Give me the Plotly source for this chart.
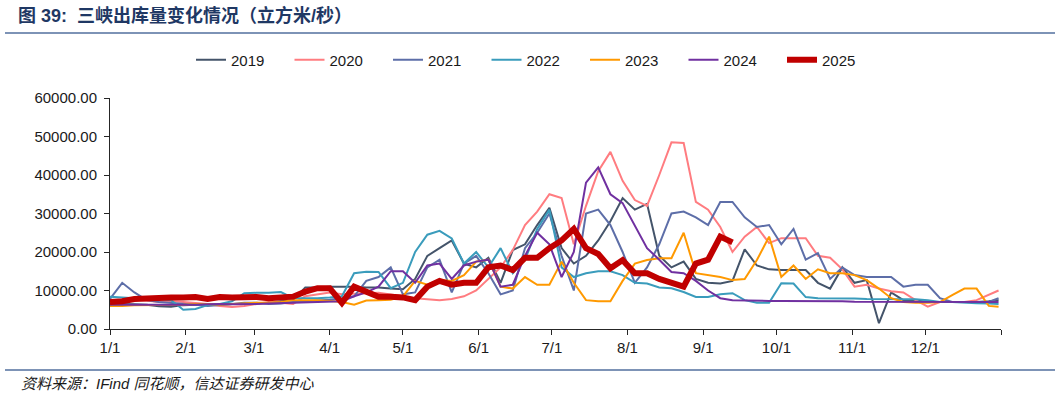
import plotly.graph_objects as go

# ---------------- data (day-of-year grid, every 5 days + Dec 30) ----------------
DAYS = list(range(0, 361, 5)) + [364]

Y2019 = [6500, 6500, 6400, 6300, 5900, 5800, 6200, 6300, 6300, 6400, 6500, 6500, 6700, 6800, 7200, 7500,
         10800, 10800, 11000, 11000, 11000, 10800, 10800, 10500, 10300, 13000, 19000, 21000, 23000, 17000, 16000, 18500,
         12000, 20500, 22000, 27000, 31500, 21000, 17000, 19000, 23000, 28000, 34000, 31000, 32500, 19000, 16000, 17500,
         13000, 12000, 11800, 12500, 20700, 16500, 15500, 15300, 15300, 15300, 12000, 10500, 16000, 12000, 12700, 1500,
         9500, 7500, 7500, 7000, 7000, 7000, 7000, 7000, 7200, 7500]

Y2020 = [7200, 7500, 7600, 7400, 7000, 7300, 7000, 6800, 6500, 6000, 5700, 6000, 6500, 7000, 6800, 6500,
         8500, 9000, 9500, 9000, 9200, 9300, 9400, 9000, 8500, 8000, 7800, 7500, 7800, 8500, 10000, 13000,
         16000, 20500, 27000, 30500, 35000, 34000, 22000, 32000, 41000, 46000, 38500, 33500, 32000, 40000, 48500, 48300,
         33000, 31000, 26500, 20000, 24000, 26500, 22300, 23600, 23600, 23600, 19000, 18500, 15500, 11000, 11500, 10500,
         9800, 9500, 7500, 5800, 7000, 7000, 7000, 7500, 9000, 10000]

Y2021 = [7800, 12000, 9500, 7500, 7000, 6800, 6500, 6300, 6000, 6200, 6500, 6800, 6800, 6500, 6600, 7000,
         7200, 7500, 7600, 8000, 8500, 12500, 13500, 16000, 9000, 9500, 16000, 18000, 9500, 17000, 19000, 14500,
         9000, 10000, 21000, 25000, 30000, 19000, 10000, 30000, 31000, 27000, 20000, 12000, 16000, 22000, 30000, 30500,
         29000, 27000, 33000, 33000, 29000, 26500, 27000, 22000, 26000, 18000, 19700, 13000, 16000, 14000, 13500, 13500,
         13500, 11000, 11500, 11500, 8000, 7000, 7000, 7000, 7000, 8000]

Y2022 = [8400, 8200, 8000, 7800, 7800, 7500, 5000, 5200, 6200, 6500, 7200, 9300, 9400, 9400, 9600, 8000,
         8000, 8000, 8200, 8500, 14500, 14900, 14800, 10600, 12000, 20000, 24500, 25500, 23500, 17000, 20000, 16000,
         21000, 14500, 18000, 26000, 31000, 16000, 13500, 14500, 15000, 15000, 14000, 12000, 11800, 10800, 10600, 9600,
         8300, 8300, 9000, 9300, 7500, 6800, 6800, 11900, 11800, 8300, 8000, 8000, 7900, 7900, 7800, 7800,
         7700, 7700, 7700, 7500, 7000, 7000, 6800, 6700, 6600, 6500]

Y2023 = [6000, 6000, 6200, 6200, 6300, 6300, 6300, 6500, 6500, 6300, 6500, 6600, 6800, 6800, 7000, 7500,
         7500, 7500, 7300, 7000, 6300, 7400, 7500, 7600, 8500, 12500, 11500, 12700, 12500, 14000, 17500, 18000,
         11000, 10500, 13500, 11500, 11500, 17500, 12000, 7500, 7200, 7200, 12500, 17000, 17900, 18400, 18400, 25000,
         14500, 14000, 13500, 12700, 13000, 17900, 24000, 13500, 16500, 13000, 15500, 14500, 14500, 14000, 12700, 10500,
         8000, 7000, 6800, 6800, 7000, 8800, 10500, 10500, 6000, 5800]

Y2024 = [6300, 6300, 6300, 6200, 6200, 6300, 6300, 6300, 6400, 6500, 6400, 6400, 6500, 6600, 6700, 6800,
         6900, 6900, 7000, 7200, 8500, 9500, 11000, 15000, 15000, 12000, 16500, 17000, 13000, 16500, 17500, 18000,
         11000, 11500, 19000, 25000, 22000, 13500, 20000, 38000, 42000, 35000, 32700, 27000, 21000, 18000, 14800, 14500,
         12500, 10000, 8000, 7500, 7400, 7300, 7300, 7300, 7300, 7200, 7200, 7200, 7200, 7100, 7100, 7100,
         7100, 7000, 7000, 7000, 7000, 7000, 7000, 7000, 7000, 7000]

Y2025 = [7000, 7200, 7800, 8000, 8000, 8200, 8200, 8300, 7800, 8300, 8200, 8400, 8300, 8000, 8100, 8400,
         9700, 10600, 10600, 6800, 11000, 9500, 8400, 8400, 8200, 7500, 11000, 12500, 11500, 12000, 12000, 16000,
         16500, 15300, 18500, 18500, 21000, 23000, 26000, 21000, 19500, 15800, 17900, 14500, 14500, 13000, 12200, 11000,
         17000, 18000, 24000, 22500]

SERIES_NAMES = ["2019", "2020", "2021", "2022", "2023", "2024", "2025"]
SERIES_VALUES = [Y2019, Y2020, Y2021, Y2022, Y2023, Y2024, Y2025]

TICK_DAYS = [0, 31, 59, 90, 120, 151, 181, 212, 243, 273, 304, 334, 365]
TICK_LABELS = ["1/1", "2/1", "3/1", "4/1", "5/1", "6/1", "7/1", "8/1", "9/1", "10/1", "11/1", "12/1", ""]

# ---------------- styles ----------------
COLORS = ["#44546A", "#FF7C80", "#5D6EA8", "#3A9CBC", "#FF9900", "#7030A0", "#C00000"]
WIDTHS = [2, 2, 2, 2, 2, 2, 6]

FONT = "Liberation Sans, Arial, Noto Sans CJK SC, sans-serif"
CJK = "Liberation Sans, Noto Sans CJK SC, sans-serif"

fig = go.Figure()
for name, vals, col, w in zip(SERIES_NAMES, SERIES_VALUES, COLORS, WIDTHS):
    fig.add_trace(go.Scatter(
        x=DAYS[:len(vals)], y=vals, name=name, mode="lines",
        line=dict(color=col, width=w),
    ))

# plot area: x 110..1001, y 98..329
L, R, T, B = 110, 1060 - 1001, 98, 396 - 329
PW, PH = 1001 - 110, 329 - 98

def px(x):
    return (x - L) / PW

def py(y):
    return (329 - y) / PH

fig.update_layout(
    width=1060, height=396,
    margin=dict(l=L, r=R, t=T, b=B, pad=0),
    paper_bgcolor="white", plot_bgcolor="white",
    font=dict(family=FONT, size=15, color="#1a1a1a"),
    showlegend=True,
    legend=dict(
        orientation="h", x=px(191), xanchor="left", y=py(60), yanchor="middle",
        font=dict(family=FONT, size=15, color="#1a1a1a"),
        entrywidth=53.5, entrywidthmode="pixels",
        bgcolor="rgba(0,0,0,0)", borderwidth=0,
        tracegroupgap=0, itemsizing="trace",
    ),
    xaxis=dict(
        range=[0, 365], tickmode="array", tickvals=TICK_DAYS, ticktext=TICK_LABELS,
        showline=True, linecolor="#262626", linewidth=1,
        ticks="outside", ticklen=5, tickcolor="#262626", tickwidth=1,
        showgrid=False, zeroline=False,
        tickfont=dict(family=FONT, size=15, color="#1a1a1a"),
    ),
    yaxis=dict(
        range=[0, 60000], dtick=10000, tick0=0, tickformat=".2f",
        showline=True, linecolor="#262626", linewidth=1,
        ticks="outside", ticklen=5, tickcolor="#262626", tickwidth=1,
        showgrid=False, zeroline=False,
        tickfont=dict(family=FONT, size=15, color="#1a1a1a"),
        ticklabelstandoff=4,
    ),
)

# title & rules & source
fig.add_annotation(
    text="<b>图 39:  三峡出库量变化情况（立方米/秒）</b>",
    xref="paper", yref="paper", x=px(16), y=py(15), xanchor="left", yanchor="middle",
    showarrow=False, font=dict(family=CJK, size=18, color="#1F3864"),
)
fig.add_shape(type="line", xref="paper", yref="paper", x0=px(5), x1=px(1055), y0=py(33), y1=py(33),
              line=dict(color="#7D93B6", width=2))
fig.add_shape(type="line", xref="paper", yref="paper", x0=px(5), x1=px(1055), y0=py(370), y1=py(370),
              line=dict(color="#7D93B6", width=2))
fig.add_annotation(
    text="资料来源：IFind 同花顺，信达证券研发中心",
    xref="paper", yref="paper", x=px(19), y=py(383), xanchor="left", yanchor="middle",
    showarrow=False, font=dict(family=CJK, size=15, color="#1a1a1a", style="italic"),
)

fig.write_html("out.html", config={"displayModeBar": False},
               post_script="document.body.style.margin='0';")
